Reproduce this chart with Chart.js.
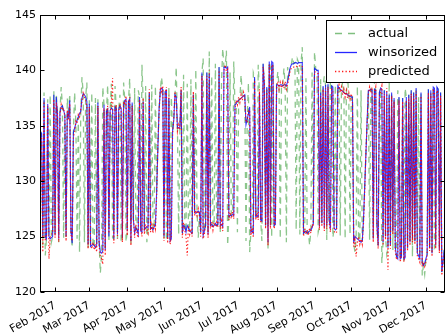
<!DOCTYPE html>
<html><head><meta charset="utf-8">
<style>html,body{margin:0;padding:0;background:#fff;}#wrap{width:446px;height:335px;}</style>
<script src="https://cdn.jsdelivr.net/npm/chart.js@4.4.1/dist/chart.umd.min.js"></script>
</head><body><div id="wrap"><canvas id="c" width="446" height="335"></canvas></div>
<script>
// first sample: day-of-year 19 (Jan 1 = 0), one sample per day
const startDay = 19;

const actual = [
134.5,134.3,124.2,138.0,123.3,124.8,137.4,125.0,137.8,124.5,
125.0,138.2,125.2,137.9,136.0,124.5,136.2,138.5,136.8,124.9,
136.0,125.0,137.5,135.8,137.9,125.5,124.0,134.4,138.0,135.2,
124.8,135.8,123.6,136.3,139.4,137.9,124.5,137.6,138.9,124.0,
137.3,124.1,138.0,124.3,124.0,137.5,124.2,137.4,124.5,121.7,
123.5,138.5,136.9,123.8,136.3,138.7,124.6,136.4,138.8,124.9,
124.8,138.6,136.6,124.8,136.5,137.8,124.5,124.9,138.9,137.3,
124.5,125.5,137.2,139.3,124.2,137.1,126.5,138.4,125.8,125.6,
138.2,137.6,125.5,140.5,137.2,125.6,138.6,124.5,125.8,138.0,
125.7,138.7,125.6,125.9,138.6,129.0,133.0,136.5,138.2,139.4,
138.3,124.7,138.1,124.7,124.8,138.5,124.6,137.6,134.5,135.5,
137.8,140.3,134.8,125.2,134.9,138.2,125.3,139.6,125.9,125.4,
138.8,125.8,125.5,139.2,125.3,137.8,127.2,140.1,127.2,124.9,
127.2,125.4,139.8,141.1,125.5,126.0,139.8,125.2,141.7,126.0,
139.5,125.9,126.0,140.6,126.0,126.1,140.3,125.2,138.9,142.0,
140.3,140.3,141.8,124.2,126.8,139.8,126.9,127.0,140.8,136.9,
137.0,125.4,137.3,137.4,139.6,137.6,137.7,137.8,124.6,135.6,
138.9,123.6,125.4,125.5,139.8,139.4,126.8,126.9,140.5,138.0,
126.5,124.6,140.6,138.7,126.0,138.5,123.8,140.8,140.2,124.9,
140.7,126.0,126.1,138.7,139.9,138.6,124.8,138.7,138.6,140.2,
138.7,124.5,140.3,139.6,140.2,140.5,141.2,140.6,140.7,125.6,
141.0,140.7,125.2,140.7,142.1,125.3,125.4,139.3,125.3,125.4,
124.2,125.6,139.8,126.2,141.7,140.1,140.0,125.4,125.9,139.2,
126.2,138.6,139.5,138.7,124.7,138.8,126.5,140.0,138.6,124.9,
125.8,139.2,125.7,138.6,138.4,125.1,138.2,139.0,138.0,124.8,
137.9,139.4,137.7,125.2,137.6,137.6,124.4,123.6,124.9,138.6,
124.7,124.6,138.2,124.6,126.5,129.5,132.5,135.5,138.2,124.7,
138.3,138.2,124.8,139.1,138.2,126.0,124.2,138.0,138.4,122.6,
124.5,138.2,125.0,123.4,124.0,139.0,124.2,138.0,123.8,137.5,
124.0,123.2,138.2,137.6,123.0,123.1,137.5,122.8,138.4,137.6,
124.0,137.8,124.5,138.2,123.2,138.0,124.6,138.4,123.5,137.6,
123.0,138.0,121.5,122.4,121.6,123.0,123.4,138.3,124.0,138.2,
123.5,138.5,124.0,124.2,138.5,138.3,123.8,138.0,121.8,122.8,
123.8];

const winsorized = [
134.5,134.3,125.0,137.5,125.0,124.8,137.0,125.0,124.8,124.9,
125.0,137.8,125.2,137.6,136.0,124.8,136.2,136.7,136.8,136.4,
136.0,125.0,136.1,135.8,137.3,125.5,124.4,134.4,134.8,135.2,
135.5,135.8,136.1,136.3,137.5,137.9,137.8,137.6,137.2,124.3,
137.0,124.1,124.2,124.3,124.2,124.0,124.2,137.1,124.5,123.6,
123.5,123.7,136.9,123.8,136.3,136.5,125.0,136.4,136.6,136.5,
124.8,136.7,136.6,125.2,136.5,136.8,136.6,124.9,136.9,137.3,
137.4,125.5,137.2,137.4,124.6,137.1,126.5,125.3,125.8,125.6,
125.2,137.6,125.5,125.4,137.2,125.6,125.8,125.9,125.8,138.0,
125.7,125.8,125.6,125.9,126.0,129.0,133.0,136.5,138.2,138.4,
138.3,125.0,138.1,138.2,124.8,137.5,124.6,124.8,134.5,135.5,
137.8,137.6,134.8,134.8,134.9,138.2,125.3,126.0,125.9,125.4,
126.0,125.8,125.5,125.4,125.3,137.8,127.2,127.1,127.2,127.3,
127.2,125.4,139.8,125.1,125.5,126.0,139.8,125.2,139.7,126.0,
126.1,125.9,126.0,126.2,126.0,126.1,140.3,126.0,126.1,125.9,
140.3,140.3,140.2,140.3,126.8,126.9,126.9,127.0,126.9,136.9,
137.0,137.2,137.3,137.4,137.5,137.6,137.7,137.8,135.1,135.6,
136.1,136.7,125.4,125.5,125.3,139.4,126.8,126.9,126.8,138.0,
126.5,126.4,140.6,138.7,126.0,138.5,124.5,140.8,126.0,140.8,
140.7,126.0,126.1,138.7,138.7,138.6,138.7,138.7,138.6,138.7,
138.7,138.6,139.0,139.6,140.2,140.5,140.6,140.6,140.7,140.7,
140.6,140.7,140.7,140.7,140.7,125.3,125.4,125.5,125.3,125.4,
125.5,125.6,125.8,126.2,140.2,140.1,140.0,140.0,125.9,138.0,
126.2,138.6,125.8,138.7,126.0,138.8,126.5,125.7,138.6,138.5,
125.8,125.6,125.7,138.6,138.4,138.3,138.2,138.1,138.0,137.9,
137.9,137.8,137.7,137.7,137.6,137.6,124.4,125.0,124.9,124.8,
124.7,124.6,124.5,124.6,126.5,129.5,132.5,135.5,138.2,138.2,
138.3,138.2,124.8,138.3,138.2,126.0,124.2,138.0,138.4,138.3,
124.5,138.2,125.0,138.1,124.0,137.8,124.2,138.0,125.5,137.5,
124.0,123.2,123.0,137.6,123.0,123.1,137.5,123.0,123.1,137.6,
124.0,137.8,124.5,138.2,124.8,138.0,124.6,138.4,123.5,123.3,
123.0,138.0,122.6,122.4,122.6,123.0,123.4,138.3,124.0,138.2,
123.5,138.5,138.4,124.2,138.5,138.3,123.8,138.0,121.8,122.8,
123.8];

const predicted = [
134.2,134.0,123.6,137.2,124.6,125.0,136.8,123.0,124.9,125.2,
125.3,137.4,124.9,137.1,136.3,124.5,136.0,136.9,136.4,136.6,
135.8,124.6,136.4,135.5,137.0,125.2,124.6,134.0,134.5,135.4,
135.2,136.0,135.8,136.5,137.2,138.1,137.6,137.3,136.8,123.9,
136.7,124.4,123.9,124.5,123.8,124.3,123.6,136.8,124.2,123.2,
123.0,122.5,136.6,123.3,136.0,136.8,125.3,136.2,136.9,139.3,
124.4,136.4,136.9,124.8,136.2,137.0,136.3,124.5,137.2,137.0,
137.7,125.1,136.9,137.6,124.2,136.8,126.8,124.9,126.1,125.2,
124.9,137.3,125.8,125.0,137.5,125.2,126.1,125.6,125.3,138.3,
125.4,126.1,125.3,126.2,125.7,128.6,133.4,136.2,138.5,138.1,
138.6,124.6,137.8,138.5,124.4,137.8,124.3,125.1,134.2,135.8,
138.1,137.3,134.5,135.1,134.6,138.5,124.9,126.3,125.6,125.0,
123.3,126.0,125.2,125.7,125.0,138.1,126.9,127.4,126.9,127.5,
126.9,125.0,139.5,124.8,125.2,126.3,139.5,124.9,140.0,125.7,
126.4,125.6,126.3,125.9,126.3,125.8,140.0,125.7,126.4,125.5,
140.0,140.5,139.9,140.1,126.5,127.2,126.6,127.3,126.6,136.6,
137.3,136.9,137.6,137.1,137.8,137.3,138.0,137.5,135.4,135.3,
136.4,136.4,125.1,125.8,124.9,139.1,126.5,127.2,126.5,138.3,
126.2,126.7,140.3,139.0,125.7,138.2,124.2,140.5,125.7,140.5,
140.4,125.7,126.4,138.4,139.0,138.3,138.9,138.4,138.9,138.4,
139.0,138.3,138.7,139.3,139.9,140.2,140.3,140.3,140.4,140.4,
140.3,140.4,140.4,140.4,140.4,125.0,125.7,125.2,125.6,125.1,
125.8,125.3,126.1,125.9,139.9,139.8,139.7,139.7,125.6,137.7,
125.9,138.3,125.5,138.4,125.7,138.5,126.2,125.4,138.3,138.2,
125.5,125.3,125.4,138.3,138.7,138.0,138.5,137.8,138.3,137.6,
138.2,137.5,138.0,137.4,137.9,137.3,124.1,124.7,123.2,124.5,
125.0,124.3,124.8,124.3,126.2,129.2,132.8,135.2,137.9,138.5,
138.0,138.5,124.5,138.0,138.5,125.7,123.9,137.7,138.1,138.6,
124.2,137.9,124.7,138.4,122.0,137.5,123.9,137.7,125.2,137.2,
123.7,122.9,123.3,137.3,122.7,123.4,137.2,122.7,123.4,137.3,
123.7,137.5,124.2,137.9,124.5,137.7,124.3,138.1,123.2,123.0,
122.7,137.7,122.3,122.7,122.3,122.7,123.1,138.0,123.7,137.9,
123.2,138.2,138.1,123.9,138.2,138.0,123.5,137.7,121.5,122.5,
123.5];

// x-axis: month starts (day of year) and their labels
const monthTickDays = [31,59,90,120,151,181,212,243,273,304,334];
const monthTickLabels = ['Feb 2017','Mar 2017','Apr 2017','May 2017','Jun 2017','Jul 2017',
  'Aug 2017','Sep 2017','Oct 2017','Nov 2017','Dec 2017'];
const yTickValues = [120,125,130,135,140,145];
const xMin = 18.7, xMax = 349.6;

function toPoints(arr){ return arr.map((v,i)=>({x:startDay+i, y:v})); }

const FONT = 'DejaVu Sans';

const framePlugin = {
  id:'frame',
  afterDatasetsDraw(chart){
    const {ctx, chartArea:a, scales} = chart;
    const L=Math.round(a.left)+0.5, T=Math.round(a.top)+0.5, R=Math.round(a.right)-0.5, B=Math.round(a.bottom)-0.5;
    ctx.save();
    ctx.strokeStyle='#000'; ctx.lineWidth=1;
    ctx.beginPath();
    scales.x.ticks.forEach(t=>{
      const px=Math.round(scales.x.getPixelForValue(t.value))+0.5;
      ctx.moveTo(px,B); ctx.lineTo(px,B-4);
      ctx.moveTo(px,T); ctx.lineTo(px,T+4);
    });
    scales.y.ticks.forEach(t=>{
      const py=Math.round(scales.y.getPixelForValue(t.value))+0.5;
      ctx.moveTo(L,py); ctx.lineTo(L+4,py);
      ctx.moveTo(R,py); ctx.lineTo(R-4,py);
    });
    ctx.stroke();
    ctx.strokeRect(L,T,R-L,B-T);
    // legend
    const lx=326.5, ly=20.5, lw=118, lh=62;
    ctx.fillStyle='#fff'; ctx.fillRect(lx,ly,lw,lh);
    ctx.strokeStyle='#000'; ctx.strokeRect(lx,ly,lw,lh);
    ctx.font='13px "'+FONT+'"'; ctx.textBaseline='middle'; ctx.textAlign='left';
    const legendColors=['rgba(0,128,0,0.5)','rgba(0,0,255,0.85)','rgba(255,0,0,0.9)'];
    chart.data.datasets.forEach((ds,i)=>{
      const yy=Math.round(ly+12+i*19)+0.5;
      ctx.save();
      ctx.strokeStyle=legendColors[i]; ctx.lineWidth=1.3;
      ctx.setLineDash(i===0?[7,6]:(i===2?[1.3,2.2]:[]));
      ctx.beginPath(); ctx.moveTo(335,yy); ctx.lineTo(357,yy); ctx.stroke();
      ctx.restore();
      ctx.fillStyle='#000';
      ctx.fillText(ds.label,368,yy);
    });
    ctx.restore();
  }
};

new Chart(document.getElementById('c'),{
  type:'line',
  data:{datasets:[
    {label:'actual', data:toPoints(actual), borderColor:'rgba(0,128,0,0.45)', borderWidth:1.3, borderDash:[6,5], pointRadius:0, order:2},
    {label:'winsorized', data:toPoints(winsorized), borderColor:'rgba(0,0,255,0.78)', borderWidth:1.1, pointRadius:0, order:1},
    {label:'predicted', data:toPoints(predicted), borderColor:'rgba(255,0,0,0.85)', borderWidth:1.2, borderDash:[1.3,2.2], pointRadius:0, order:0}
  ]},
  options:{
    responsive:false, animation:false, devicePixelRatio:1,
    layout:{padding:{top:15,right:1,left:0,bottom:0}},
    plugins:{legend:{display:false}, tooltip:{enabled:false}},
    elements:{line:{tension:0}},
    scales:{
      x:{type:'linear', min:xMin, max:xMax,
        grid:{display:false, drawTicks:false}, border:{display:false},
        afterBuildTicks(s){ s.ticks = monthTickDays.map(v=>({value:v})); },
        afterFit(s){ s.height=43; s.paddingLeft=0; s.paddingRight=0; },
        ticks:{autoSkip:false, maxRotation:30, minRotation:30, padding:7, color:'#000',
          font:{family:FONT, size:11},
          callback(v){ const i=monthTickDays.indexOf(v); return i>=0?monthTickLabels[i]:''; }}
      },
      y:{min:120, max:145,
        grid:{display:false, drawTicks:false}, border:{display:false},
        afterBuildTicks(s){ s.ticks = yTickValues.map(v=>({value:v})); },
        afterFit(s){ s.width=40; s.paddingTop=0; s.paddingBottom=0; },
        ticks:{padding:4, color:'#000', font:{family:FONT, size:11}}
      }
    }
  },
  plugins:[framePlugin]
});
</script>
</body></html>
